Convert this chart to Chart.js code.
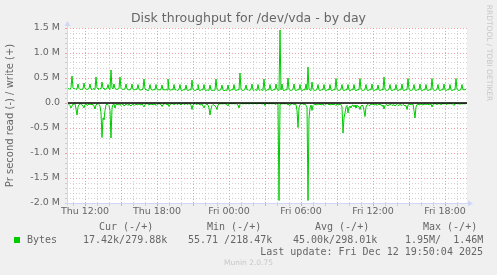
<!DOCTYPE html>
<html>
<head>
<meta charset="utf-8">
<script src="https://cdn.jsdelivr.net/npm/chart.js@4.4.0/dist/chart.umd.min.js"></script>
<style>
  html, body { margin: 0; padding: 0; background: #f0f0f0; }
  canvas { display: block; }
</style>
</head>
<body>
<canvas id="myChart" width="497" height="275"></canvas>
<script>
  // 5 minute samples, first one at Thu 10:30 (hours since Thu 00:00)
  var startHour = 10.5;
  var stepHours = 5 / 60;
  var dayNames = ["Thu", "Fri"];

  // write (+) per second, units of 10 kB, one row = one hour
  var writeTenKB = [
    30,28,29,27,31,54,30,28,29,27,28,38,
    29,27,28,27,28,40,29,28,27,28,29,38,
    28,27,29,28,27,52,30,28,27,29,28,42,
    30,28,27,28,29,37,28,27,66,30,28,38,
    29,28,27,28,29,52,29,27,28,27,28,38,
    28,27,26,27,28,38,27,26,27,28,27,37,
    27,26,27,26,28,48,28,26,27,24,27,37,
    27,26,26,27,26,37,27,26,27,26,27,36,
    26,27,26,27,26,48,27,26,26,27,26,37,
    26,27,25,26,27,37,26,25,26,27,26,36,
    26,25,26,27,26,46,27,26,25,26,27,37,
    26,25,26,27,26,37,26,25,26,26,25,36,
    26,25,26,25,26,48,27,26,25,26,27,36,
    26,25,26,26,25,36,26,25,26,27,26,37,
    26,25,26,27,26,60,27,26,25,26,27,36,
    26,27,25,26,27,38,26,25,27,26,25,37,
    26,25,27,26,25,48,26,25,26,27,26,37,
    26,25,26,27,26,38,27,26,25,146,26,38,
    26,25,26,27,26,50,27,26,25,26,27,38,
    26,25,26,27,26,37,26,25,26,27,26,38,
    26,72,27,26,25,42,27,26,25,26,27,37,
    26,25,26,27,26,37,26,25,26,27,26,37,
    26,25,26,27,26,49,27,26,25,26,27,37,
    26,25,26,27,26,37,26,25,26,27,26,37,
    26,25,26,27,26,49,27,26,25,26,27,37,
    26,25,26,27,26,38,26,25,26,27,26,36,
    26,25,26,27,26,52,27,26,25,26,27,37,
    26,25,26,27,26,37,26,25,26,27,26,38,
    26,25,26,27,26,49,27,26,25,26,27,37,
    26,25,26,27,26,38,26,25,26,27,26,37,
    26,25,26,27,26,49,27,26,25,26,27,37,
    26,25,26,27,26,38,26,25,26,27,26,37,
    26,25,26,27,26,49,27,26,25,26,27,37,
    26,27,26,28
  ];

  // read (-) per second, units of 10 kB, one row = one hour
  var readTenKB = [
    2,1,3,5,10,6,2,3,1,12,24,8,
    3,2,1,4,6,10,3,2,5,4,2,3,
    2,4,3,6,12,4,2,1,3,6,20,69,
    30,33,15,4,2,3,5,15,70,10,3,2,
    10,3,2,4,3,2,5,3,2,6,4,2,
    3,5,2,4,6,3,2,5,3,2,4,3,
    2,3,4,2,5,8,3,2,1,3,4,2,
    3,2,4,3,2,5,3,2,1,2,3,7,
    3,2,1,3,2,4,7,3,2,1,2,3,
    2,1,3,2,1,2,4,2,1,3,2,1,
    2,3,1,2,5,13,4,2,1,3,2,1,
    2,4,3,2,6,10,5,3,2,4,10,24,
    12,5,3,4,6,8,13,4,2,1,2,1,
    2,1,1,2,3,6,2,1,1,2,1,1,
    2,1,3,4,10,3,1,1,2,1,1,2,
    1,1,2,1,1,1,2,1,1,1,2,1,
    1,1,1,2,1,1,5,1,1,1,2,1,
    1,2,1,1,2,3,1,2,195,3,2,1,
    2,1,2,1,3,2,4,5,2,1,2,3,
    2,3,15,49,10,3,2,1,2,3,2,5,
    8,195,30,10,4,15,5,3,2,4,3,2,
    3,2,4,3,2,5,3,2,1,3,2,4,
    3,2,4,2,3,5,2,3,4,2,3,8,
    60,30,20,8,5,20,8,6,10,5,4,8,
    4,10,5,6,8,13,6,4,6,15,27,8,
    4,3,5,5,2,3,2,4,3,2,5,3,
    2,4,3,6,4,12,5,3,4,6,3,4,
    3,5,4,3,6,4,3,5,4,3,4,5,
    3,4,6,5,13,4,3,2,4,3,2,15,
    30,8,3,2,4,3,2,3,4,2,3,2,
    3,2,4,3,2,8,3,2,1,2,3,2,
    1,2,3,2,1,2,1,3,2,1,2,1,
    2,1,3,5,2,1,1,2,1,3,1,2,
    1,2,1,2
  ];

  var legendHeads = ["Cur (-/+)", "Min (-/+)", "Avg (-/+)", "Max (-/+)"];
  var legendValues = ["17.42k/279.88k", "55.71 /218.47k", "45.00k/298.01k", "1.95M/  1.46M"];
  var lastUpdate = "Last update: Fri Dec 12 19:50:04 2025";

  var SANS = '"DejaVu Sans", sans-serif';
  var MONO = '"DejaVu Sans Mono", monospace';
  var FONT_COLOR = "#666666";
  var AXIS_COLOR = "#cfd6f8";
  var MGRID = "rgba(235,130,130,0.75)";
  var GRID = "rgba(190,190,190,0.7)";

  var writeData = writeTenKB.map(function (v, i) {
    return { x: startHour + i * stepHours, y: v * 10000 };
  });
  var readData = readTenKB.map(function (v, i) {
    return { x: startHour + i * stepHours, y: -v * 10000 };
  });

  var muninDecor = {
    id: "muninDecor",
    beforeDraw: function (chart) {
      var ctx = chart.ctx, a = chart.chartArea;
      ctx.save();
      ctx.fillStyle = "#f0f0f0";
      ctx.fillRect(0, 0, chart.width, chart.height);
      ctx.fillStyle = "#ffffff";
      ctx.fillRect(a.left, a.top, a.right - a.left, a.bottom - a.top);
      ctx.restore();
    },
    afterDatasetsDraw: function (chart) {
      var ctx = chart.ctx, a = chart.chartArea;
      var y0 = Math.round(chart.scales.y.getPixelForValue(0));
      ctx.save();
      ctx.strokeStyle = "#000000";
      ctx.lineWidth = 1.5;
      ctx.beginPath();
      ctx.moveTo(a.left, y0);
      ctx.lineTo(a.right, y0);
      ctx.stroke();
      ctx.restore();
    },
    afterDraw: function (chart) {
      var ctx = chart.ctx, a = chart.chartArea;
      var L = a.left + 0.5, B = a.bottom + 0.5;
      ctx.save();
      // axes with arrows
      ctx.strokeStyle = AXIS_COLOR;
      ctx.fillStyle = AXIS_COLOR;
      ctx.lineWidth = 1;
      ctx.beginPath();
      ctx.moveTo(L, B + 2);
      ctx.lineTo(L, a.top - 2);
      ctx.moveTo(L - 2, B);
      ctx.lineTo(a.right + 2, B);
      ctx.stroke();
      ctx.beginPath();
      ctx.moveTo(L - 3, a.top - 2);
      ctx.lineTo(L + 3, a.top - 2);
      ctx.lineTo(L, a.top - 7);
      ctx.closePath();
      ctx.fill();
      ctx.beginPath();
      ctx.moveTo(a.right + 1, B - 3);
      ctx.lineTo(a.right + 1, B + 3);
      ctx.lineTo(a.right + 6, B);
      ctx.closePath();
      ctx.fill();

      // title
      ctx.fillStyle = FONT_COLOR;
      ctx.font = "12.5px " + SANS;
      ctx.textAlign = "center";
      ctx.textBaseline = "middle";
      ctx.fillText("Disk throughput for /dev/vda - by day", chart.width / 2, 19);

      // legend
      ctx.font = "10px " + MONO;
      ctx.textAlign = "left";
      var headX = [99, 207, 315, 423];
      var valX = [83, 188, 293, 405];
      legendHeads.forEach(function (t, i) { ctx.fillText(t, headX[i], 227); });
      legendValues.forEach(function (t, i) { ctx.fillText(t, valX[i], 240); });
      ctx.fillText("Bytes", 27, 240);
      ctx.textAlign = "right";
      ctx.fillText(lastUpdate, 483, 252);
      ctx.fillStyle = "#00cc00";
      ctx.fillRect(14, 237, 6, 6);

      // footer + vertical watermark
      ctx.fillStyle = "#c8c8c8";
      ctx.font = "7.5px " + SANS;
      ctx.textAlign = "center";
      ctx.fillText("Munin 2.0.75", chart.width / 2, 263);
      ctx.translate(489, 53);
      ctx.rotate(Math.PI / 2);
      ctx.fillText("RRDTOOL / TOBI OETIKER", 0, 0);
      ctx.restore();
    }
  };

  var ctx = document.getElementById("myChart").getContext("2d");
  var myChart = new Chart(ctx, {
    type: "line",
    data: {
      datasets: [
        {
          label: "Bytes read",
          data: readData,
          borderColor: "#00cc00",
          borderWidth: 1,
          pointRadius: 0,
          tension: 0,
          fill: false,
        },
        {
          label: "Bytes write",
          data: writeData,
          borderColor: "#00cc00",
          borderWidth: 1,
          pointRadius: 0,
          tension: 0,
          fill: false,
        },
      ],
    },
    options: {
      responsive: false,
      animation: false,
      events: [],
      layout: { padding: { left: 0, top: 28, right: 30, bottom: 0 } },
      plugins: { legend: { display: false }, tooltip: { enabled: false }, title: { display: false } },
      scales: {
        x: {
          type: "linear",
          min: startHour,
          max: startHour + writeTenKB.length * stepHours,
          afterFit: function (scale) { scale.height = 72; },
          border: { display: false, dash: [1, 2] },
          grid: {
            drawTicks: true,
            tickLength: 3,
            color: function (c) {
              return c.tick && Math.abs(c.tick.value % 3) < 1e-6 ? MGRID : GRID;
            },
          },
          ticks: {
            stepSize: 1,
            includeBounds: false,
            autoSkip: false,
            maxRotation: 0,
            padding: 0,
            color: FONT_COLOR,
            font: { family: SANS, size: 9.5 },
            callback: function (v) {
              if (Math.abs(v % 6) > 1e-6) return "";
              var h = Math.round(v);
              return dayNames[Math.floor(h / 24)] + " " + String(h % 24).padStart(2, "0") + ":00";
            },
          },
        },
        y: {
          min: -2000000,
          max: 1500000,
          afterFit: function (scale) { scale.width = 67; },
          border: { display: false, dash: [1, 2] },
          grid: {
            drawTicks: true,
            tickLength: 2,
            color: function (c) {
              return c.tick && Math.round(c.tick.value / 100000) % 5 === 0 ? MGRID : GRID;
            },
          },
          title: {
            display: true,
            text: "Pr second read (-) / write (+)",
            color: FONT_COLOR,
            font: { family: SANS, size: 10 },
            padding: { top: 4, bottom: 0 },
          },
          ticks: {
            stepSize: 100000,
            autoSkip: false,
            padding: 5,
            color: FONT_COLOR,
            font: { family: SANS, size: 9.5 },
            callback: function (v) {
              var k = Math.round(v / 100000);
              if (k % 5 !== 0) return "";
              if (k === 0) return "0.0";
              return (k / 10).toFixed(1) + " M";
            },
          },
        },
      },
    },
    plugins: [muninDecor],
  });
</script>
</body>
</html>
